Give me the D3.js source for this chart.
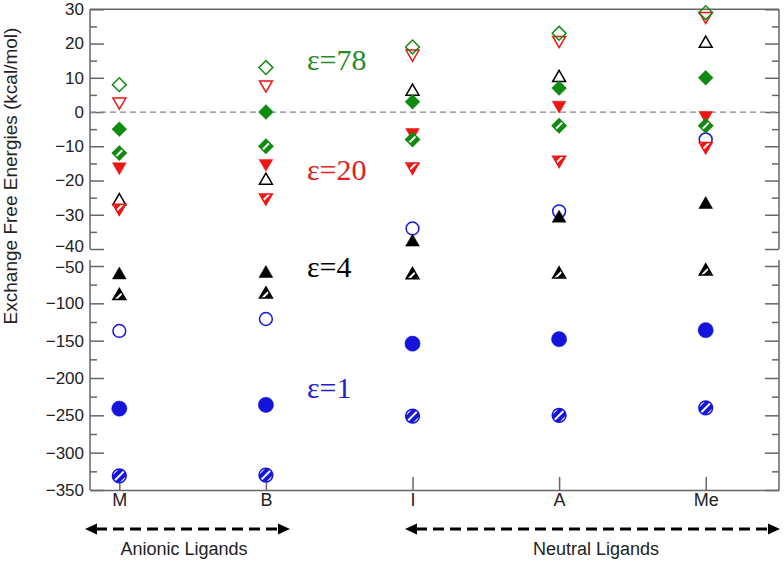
<!DOCTYPE html>
<html>
<head>
<meta charset="utf-8">
<script src="https://cdn.jsdelivr.net/npm/d3@7"></script>
<style>
  body { margin: 0; background: #fff; }
  svg { display: block; }
  .axis text { font-family: "Liberation Sans", Arial, sans-serif; font-size: 17px; fill: #222; }
  .axis line { stroke: #666; stroke-width: 1.5; }
</style>
</head>
<body>
<div id="chart"></div>
<script>
const categories = ["M", "B", "I", "A", "Me"];

// eps = 1 (blue circles)
const eps1Open    = [-137, -121, -34, -29, -8];
const eps1Filled  = [-241, -236, -154, -148, -136];
const eps1Hatched = [-331, -330, -251, -250, -240];
// eps = 4 (black triangles up)
const eps4Open    = [-26, -20, 6, 10, 20];
const eps4Filled  = [-62, -60, -38, -31, -27];
const eps4Hatched = [-90, -88, -62, -61, -57];
// eps = 20 (red triangles down)
const eps20Open    = [3, 8, 17, 21, 28];
const eps20Filled  = [-16, -15, -6, 2, -1];
const eps20Hatched = [-28, -25, -16, -14, -10];
// eps = 78 (green diamonds)
const eps78Open    = [8, 13, 19, 23, 29];
const eps78Filled  = [-5, 0, 3, 7, 10];
const eps78Hatched = [-12, -10, -8, -4, -4];

const upperTicks = [30, 20, 10, 0, -10, -20, -30, -40];
const upperMinor = [25, 15, 5, -5, -15, -25, -35];
const lowerTicks = [-50, -100, -150, -200, -250, -300, -350];
const lowerMinor = [-75, -125, -175, -225, -275, -325];

const blue = "#1414dc", black = "#000", red = "#ee1515", green = "#118a11";

const svg = d3.select("#chart").append("svg")
  .attr("width", 784)
  .attr("height", 561);

const left = 90, right = 779;
const x = d3.scaleLinear().domain([-0.2, 4.5]).range([left, right]);
const yTop = d3.scaleLinear().domain([-40, 30]).range([249, 9.3]);
const yBot = d3.scaleLinear().domain([-350, -50]).range([490, 266]);
const y = v => v >= -40 ? yTop(v) : yBot(v);

// hatch patterns (one per colour and per shape rotation)
const defs = svg.append("defs");
function hatch(name, color, angle) {
  const p = defs.append("pattern")
    .attr("id", name)
    .attr("patternUnits", "userSpaceOnUse")
    .attr("width", 6).attr("height", 6)
    .attr("patternTransform", `rotate(${angle})`);
  p.append("rect").attr("width", 6).attr("height", 6).attr("fill", "#fff");
  p.append("rect").attr("x", 1).attr("width", 4).attr("height", 6).attr("fill", color);
}
hatch("h-blue", blue, 45);
hatch("h-black", black, 45);
hatch("h-red", red, 45);
hatch("h-green", green, 0);

// frame
const frame = svg.append("g").attr("stroke", "#666").attr("stroke-width", 1.5);
frame.append("line").attr("x1", left).attr("x2", right).attr("y1", yTop(30)).attr("y2", yTop(30));
[left, right].forEach(px => {
  frame.append("line").attr("x1", px).attr("x2", px).attr("y1", yTop(30)).attr("y2", yTop(-40));
  frame.append("line").attr("x1", px).attr("x2", px).attr("y1", 260).attr("y2", yBot(-350));
});

// y axes
function yAxes(scale, major, minor, shift) {
  svg.append("g").attr("class", "axis").attr("transform", `translate(${left},0)`)
    .call(d3.axisLeft(scale).tickValues(major).tickSize(-14).tickSizeOuter(0).tickPadding(6))
    .call(g => g.select(".domain").remove())
    .call(g => g.selectAll(".tick text").filter(d => d === shift.value).attr("y", shift.dy));
  svg.append("g").attr("class", "axis").attr("transform", `translate(${left},0)`)
    .call(d3.axisLeft(scale).tickValues(minor).tickSize(-7).tickFormat(""))
    .call(g => g.select(".domain").remove());
  svg.append("g").attr("class", "axis").attr("transform", `translate(${right},0)`)
    .call(d3.axisRight(scale).tickValues(major).tickSize(-14).tickFormat(""))
    .call(g => g.select(".domain").remove());
  svg.append("g").attr("class", "axis").attr("transform", `translate(${right},0)`)
    .call(d3.axisRight(scale).tickValues(minor).tickSize(-7).tickFormat(""))
    .call(g => g.select(".domain").remove());
}
yAxes(yTop, upperTicks, upperMinor, { value: -40, dy: -2.5 });
yAxes(yBot, lowerTicks, lowerMinor, { value: -50, dy: 1.5 });

// x axis
svg.append("g").attr("class", "axis").attr("transform", `translate(0,${yBot(-350)})`)
  .call(d3.axisBottom(x).tickValues(d3.range(categories.length))
    .tickFormat(i => categories[i]).tickSize(-13).tickSizeOuter(0).tickPadding(3))
  .call(g => g.select(".domain").attr("stroke", "#666").attr("stroke-width", 1.5))
  .call(g => g.selectAll(".tick text").style("font-size", "18px"));

// zero line
svg.append("line")
  .attr("x1", left).attr("x2", right)
  .attr("y1", yTop(0)).attr("y2", yTop(0))
  .attr("stroke", "#888").attr("stroke-width", 1.3)
  .attr("stroke-dasharray", "6,4");

// y label
svg.append("text")
  .attr("transform", "translate(17,176) rotate(-90)")
  .attr("text-anchor", "middle")
  .style("font-family", "Liberation Sans, Arial, sans-serif")
  .style("font-size", "19px")
  .attr("fill", "#222")
  .text("Exchange Free Energies (kcal/mol)");

// markers
const series = [
  { values: eps1Open, shape: "circle", style: "open", color: blue, hatch: "h-blue" },
  { values: eps1Filled, shape: "circle", style: "filled", color: blue, hatch: "h-blue" },
  { values: eps1Hatched, shape: "circle", style: "hatched", color: blue, hatch: "h-blue" },
  { values: eps4Open, shape: "up", style: "open", color: black, hatch: "h-black" },
  { values: eps4Filled, shape: "up", style: "filled", color: black, hatch: "h-black" },
  { values: eps4Hatched, shape: "up", style: "hatched", color: black, hatch: "h-black" },
  { values: eps20Open, shape: "down", style: "open", color: red, hatch: "h-red" },
  { values: eps20Filled, shape: "down", style: "filled", color: red, hatch: "h-red" },
  { values: eps20Hatched, shape: "down", style: "hatched", color: red, hatch: "h-red" },
  { values: eps78Open, shape: "diamond", style: "open", color: green, hatch: "h-green" },
  { values: eps78Filled, shape: "diamond", style: "filled", color: green, hatch: "h-green" },
  { values: eps78Hatched, shape: "diamond", style: "hatched", color: green, hatch: "h-green" }
];

function symbolPath(s) {
  if (s.shape === "circle") {
    const r = s.style === "filled" ? 7.6 : s.style === "open" ? 6.4 : 6.9;
    return d3.symbol(d3.symbolCircle, Math.PI * r * r)();
  }
  if (s.shape === "diamond") return d3.symbol(d3.symbolSquare, s.style === "filled" ? 110 : 96)();
  return d3.symbol(d3.symbolTriangle, s.style === "filled" ? 82 : 72)();
}
const rot = { circle: 0, up: 0, down: 180, diamond: 45 };

series.forEach(s => {
  svg.append("g").selectAll("path")
    .data(s.values)
    .join("path")
    .attr("d", symbolPath(s))
    .attr("transform", (d, i) => `translate(${x(i)},${y(d)}) rotate(${rot[s.shape]})`)
    .attr("fill", s.style === "filled" ? s.color : s.style === "open" ? "none" : `url(#${s.hatch})`)
    .attr("stroke", s.color)
    .attr("stroke-width", s.style === "filled" ? 0.5 : 1.5);
});

// epsilon labels
const epsLabels = [
  { text: "ε=78", v: 70, color: "#2a8a2a" },
  { text: "ε=20", v: 180, color: "#dd2020" },
  { text: "ε=4", v: 277, color: "#000" },
  { text: "ε=1", v: 398, color: "#2222cc" }
];
svg.append("g").selectAll("text")
  .data(epsLabels)
  .join("text")
  .attr("x", 307)
  .attr("y", d => d.v)
  .attr("fill", d => d.color)
  .style("font-family", "Liberation Serif, Times New Roman, serif")
  .style("font-size", "30px")
  .text(d => d.text);

// ligand group arrows
const groups = [
  { label: "Anionic Ligands", from: 85, to: 290, labelX: 184 },
  { label: "Neutral Ligands", from: 405, to: 780, labelX: 596 }
];
const ay = 529, head = 12;
groups.forEach(g => {
  svg.append("line")
    .attr("x1", g.from + head - 1).attr("x2", g.to - head + 1)
    .attr("y1", ay).attr("y2", ay)
    .attr("stroke", "#000").attr("stroke-width", 3)
    .attr("stroke-dasharray", "11,6");
  svg.append("path")
    .attr("d", `M${g.from},${ay}L${g.from + head},${ay - 5.5}L${g.from + head},${ay + 5.5}Z`)
    .attr("fill", "#000");
  svg.append("path")
    .attr("d", `M${g.to},${ay}L${g.to - head},${ay - 5.5}L${g.to - head},${ay + 5.5}Z`)
    .attr("fill", "#000");
  svg.append("text")
    .attr("x", g.labelX).attr("y", 555)
    .attr("text-anchor", "middle")
    .style("font-family", "Liberation Sans, Arial, sans-serif")
    .style("font-size", "18px")
    .attr("fill", "#222")
    .text(g.label);
});
</script>
</body>
</html>
